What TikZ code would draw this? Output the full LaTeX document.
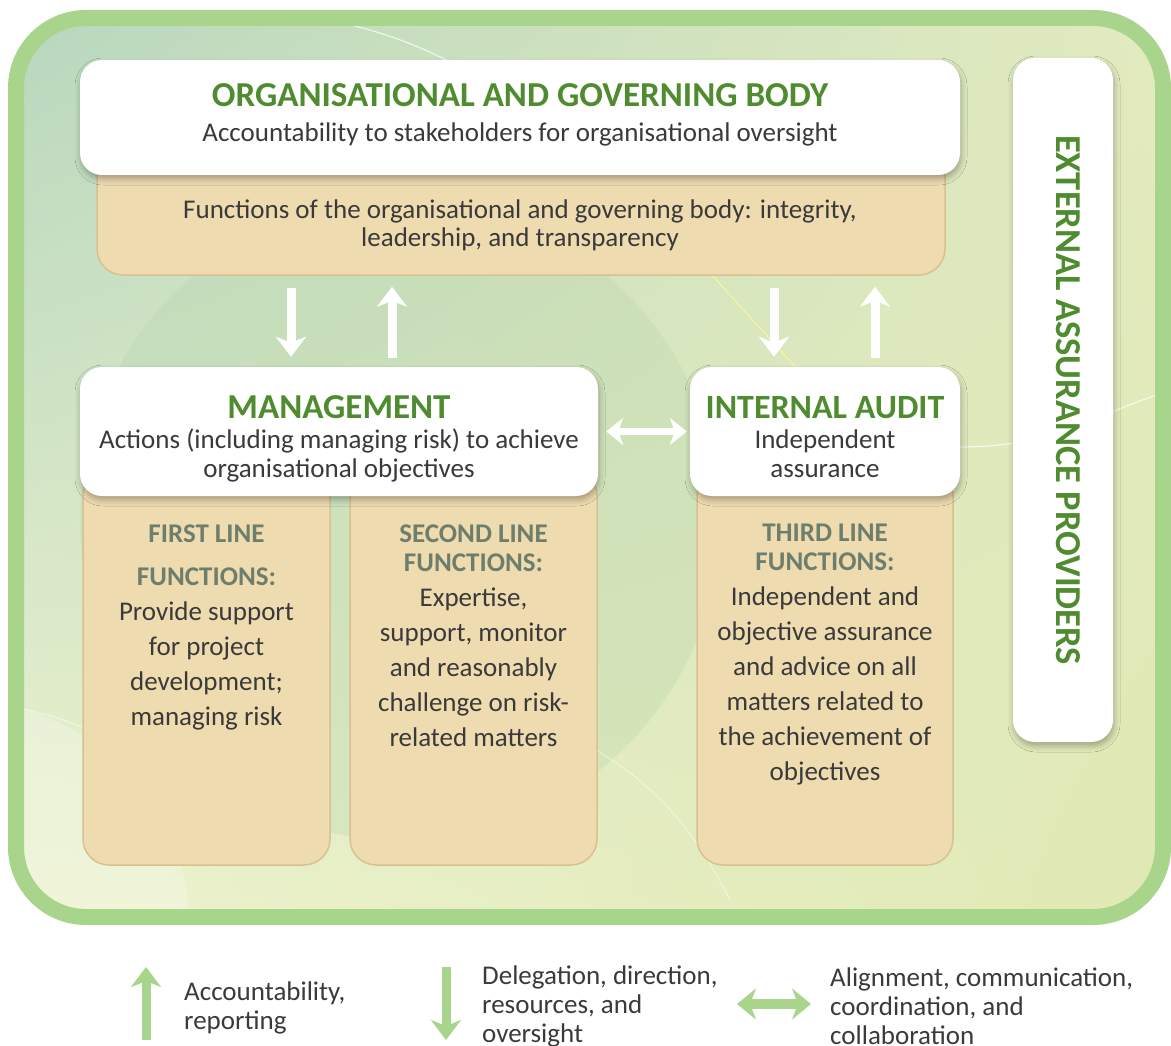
\documentclass[tikz,border=0pt]{standalone}
\usepackage{fontspec}
\setmainfont{Carlito}
\usetikzlibrary{positioning,arrows.meta,shadings,shadows.blur}
\definecolor{frameGreen}{HTML}{A8D48C}
\definecolor{titleGreen}{HTML}{4E8C2F}
\definecolor{inkGray}{HTML}{3A3A3A}
\definecolor{headGray}{HTML}{6E7E6C}
\definecolor{tanFill}{HTML}{EFDBB0}
\definecolor{tanEdge}{HTML}{D8C190}
\definecolor{bgTopLeft}{HTML}{B8D7BE}
\definecolor{bgTopRight}{HTML}{E3EBBF}
\definecolor{bgLowLeft}{HTML}{EDF3CF}
\definecolor{bgLowRight}{HTML}{E0E9B4}
\definecolor{bgShade}{HTML}{A9CDA4}
\tikzset{
  card/.style={fill=white, rounded corners=22pt,
               blur shadow={shadow xshift=1pt, shadow yshift=-4pt, shadow blur radius=6pt, shadow opacity=30}},
  tanbox/.style={fill=tanFill, draw=tanEdge, line width=1.5pt, rounded corners=26pt},
  ttl/.style={font=\bfseries\fontsize{35}{40}\selectfont, text=titleGreen, inner sep=0pt},
  txt/.style={font=\fontsize{27}{29}\selectfont, text=inkGray, align=center, inner sep=0pt},
  linehd/.style={font=\bfseries\fontsize{27}{29}\selectfont, text=headGray, align=center, inner sep=0pt},
  linetxt/.style={txt, font=\fontsize{27}{35}\selectfont},
  wflow/.style={-{Stealth[length=20pt,width=30pt,inset=6pt]}, line width=9pt, white},
  wboth/.style={{Stealth[length=17pt,width=27pt,inset=5pt]}-{Stealth[length=17pt,width=27pt,inset=5pt]},
                line width=7pt, white},
  lgflow/.style={-{Stealth[length=20pt,width=30pt,inset=6pt]}, line width=9pt, frameGreen},
  lgboth/.style={{Stealth[length=19pt,width=31pt,inset=6pt]}-{Stealth[length=19pt,width=31pt,inset=6pt]},
                 line width=10pt, frameGreen},
}
\begin{document}
\begin{tikzpicture}[x=1pt, y=-1pt]
  \useasboundingbox (0,0) rectangle (1171,1046);

  % backdrop inside the frame
  \begin{scope}
    \clip[rounded corners=70pt] (16,18) rectangle (1163,917);
    \shade[upper left=bgTopLeft, upper right=bgTopRight, lower left=bgLowLeft, lower right=bgLowRight]
      (16,18) rectangle (1163,917);
    \fill[bgShade, opacity=0.22] (400,520) circle (320);
    \fill[white, opacity=0.25] (-40,930) circle (230);
    \draw[white, opacity=0.7, line width=1.2pt] (320,18) to[bend left=8] (470,72);
    \draw[yellow!40!white, opacity=0.8, line width=1pt] (700,262) -- (800,372);
    \draw[white, opacity=0.7, line width=1.2pt] (955,447) to[bend right=4] (1015,443);
    \draw[white, opacity=0.7, line width=1.2pt] (1110,413) to[bend left=4] (1175,390);
    \draw[white, opacity=0.5, line width=1pt] (20,708) to[bend left=4] (85,728);
    \draw[white, opacity=0.5, line width=1pt] (560,730) to[bend left=18] (730,900);
  \end{scope}
  \draw[frameGreen, line width=16pt, rounded corners=70pt] (16,18) rectangle (1163,917);

  % tan function panels (tops tucked under the cards)
  \node[tanbox, minimum width=848pt, minimum height=125pt] (govtan) at (521,212.5) {};
  \node[tanbox, minimum width=247pt, minimum height=395pt] (tan1) at (206.5,667.5) {};
  \node[tanbox, minimum width=247pt, minimum height=395pt] (tan2) at (473.5,667.5) {};
  \node[tanbox, minimum width=256pt, minimum height=395pt] (tan3) at (825,667.5) {};

  % white cards
  \node[card, minimum width=880pt, minimum height=115pt] (govbox) at (520,117.5) {};
  \node[card, minimum width=518pt, minimum height=129pt] (mgmt) at (339,431.5) {};
  \node[card, minimum width=270pt, minimum height=129pt] (ia) at (825,431.5) {};
  \node[card, minimum width=100pt, minimum height=684pt] (ext) at (1063,400) {};

  % arrows between the bodies
  \coordinate (govdown) at (291,0);
  \coordinate (govup) at (392,0);
  \coordinate (iadown) at (774,0);
  \coordinate (iaup) at (875,0);
  \draw[wflow, shorten <=12pt, shorten >=10pt] (govdown |- govtan.south) -- (govdown |- mgmt.north);
  \draw[wflow, shorten <=9pt, shorten >=11pt] (govup |- mgmt.north) -- (govup |- govtan.south);
  \draw[wflow, shorten <=12pt, shorten >=10pt] (iadown |- govtan.south) -- (iadown |- ia.north);
  \draw[wflow, shorten <=9pt, shorten >=11pt] (iaup |- ia.north) -- (iaup |- govtan.south);
  \draw[wboth, shorten <=8pt, shorten >=3pt] (mgmt.east) -- (ia.west);

  % texts
  \node[ttl, below=24pt of govbox.north] (govttl) {ORGANISATIONAL AND GOVERNING BODY};
  \node[txt, below=63pt of govbox.north] (govsub) {Accountability to stakeholders for organisational oversight};
  \node[txt, font=\fontsize{27}{28}\selectfont, below=24pt of govbox.south] (govfn)
    {Functions of the organisational and governing body: integrity,\\leadership, and transparency};
  \node[ttl, below=29pt of mgmt.north] (mgmtttl) {MANAGEMENT};
  \node[txt, below=62pt of mgmt.north] (mgmtsub) {Actions (including managing risk) to achieve\\organisational objectives};
  \node[ttl, font=\bfseries\fontsize{34}{40}\selectfont, below=29pt of ia.north] (iattl) {INTERNAL AUDIT};
  \node[txt, below=63pt of ia.north] (iasub) {Independent\\assurance};
  \node[ttl, font=\bfseries\fontsize{36.5}{40}\selectfont, rotate=-90] (extttl) at ([xshift=5pt]ext.center)
    {EXTERNAL ASSURANCE PROVIDERS};

  \node[linehd, font=\bfseries\fontsize{27}{43}\selectfont, below=55pt of tan1.north] (l1hd) {FIRST LINE\\FUNCTIONS:};
  \node[linetxt, below=132pt of tan1.north] (l1txt) {Provide support\\for project\\development;\\managing risk};
  \node[linehd, below=55pt of tan2.north] (l2hd) {SECOND LINE\\FUNCTIONS:};
  \node[linetxt, below=118pt of tan2.north] (l2txt)
    {Expertise,\\support, monitor\\and reasonably\\challenge on risk-\\related matters};
  \node[linehd, below=55pt of tan3.north] (l3hd) {THIRD LINE\\FUNCTIONS:};
  \node[linetxt, below=117pt of tan3.north] (l3txt)
    {Independent and\\objective assurance\\and advice on all\\matters related to\\the achievement of\\objectives};

  % legend
  \coordinate (upfoot) at (146,1040);
  \coordinate (uphead) at (146,967);
  \draw[lgflow] (upfoot) -- (uphead);
  \node[txt, align=left, anchor=west] (lgup) at (184,1007.5) {Accountability,\\reporting};
  \coordinate (dntop) at (446,967);
  \coordinate (dnfoot) at (446,1040);
  \draw[lgflow] (dntop) -- (dnfoot);
  \node[txt, align=left, anchor=west] (lgdown) at (482,1006) {Delegation, direction,\\resources, and\\oversight};
  \coordinate (alignl) at (737,1004);
  \coordinate (alignr) at (811,1004);
  \draw[lgboth] (alignl) -- (alignr);
  \node[txt, align=left, anchor=west] (lgalign) at (830,1006) {Alignment, communication,\\coordination, and\\collaboration};
\end{tikzpicture}
\end{document}
